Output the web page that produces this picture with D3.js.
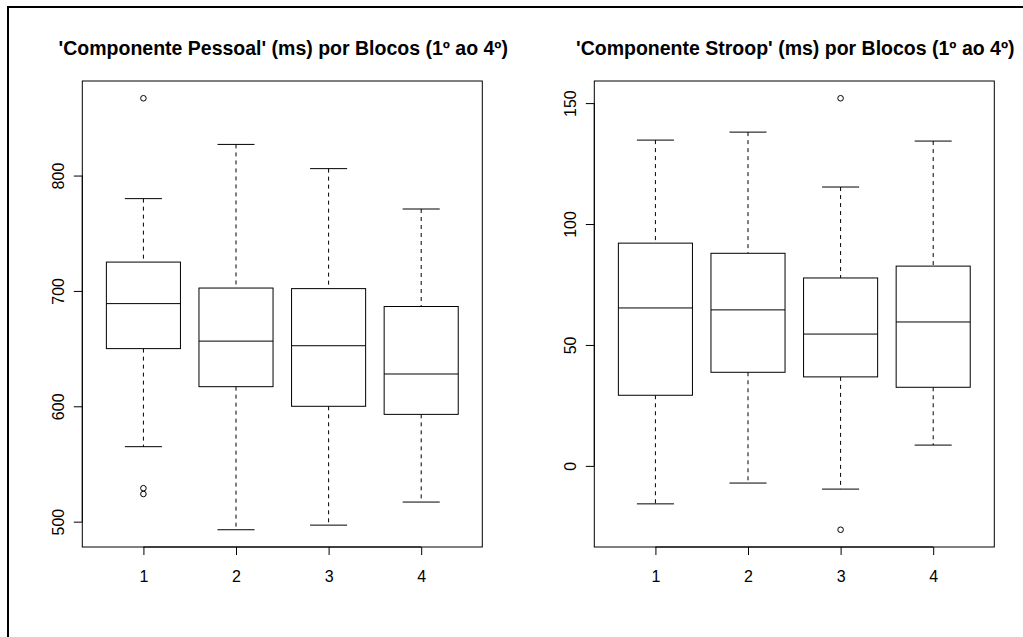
<!DOCTYPE html>
<html>
<head>
<meta charset="utf-8">
<script src="https://cdn.jsdelivr.net/npm/d3@7"></script>
<style>
	html, body { margin: 0; padding: 0; background: #fff; overflow: hidden; }
	svg { display: block; font-family: 'Liberation Sans', Arial, Helvetica, sans-serif; }
</style>
</head>
<body>
<svg id="chart" width="1023" height="637"></svg>
<script>
'use strict'

// blocos 1..4
const blocos = ['1', '2', '3', '4']

// [bigode inf, Q1, mediana, Q3, bigode sup]
const pessoalStats = [
	[565, 650, 689, 725, 780],
	[493, 617, 656.5, 702.5, 827],
	[497, 600, 652.5, 702, 806],
	[517, 593, 628, 686.5, 771]
]
const pessoalOutliers = [[867, 529, 524], [], [], []]
const pessoalTicks = [500, 600, 700, 800]

const stroopStats = [
	[-15.7, 29.2, 65.3, 92.1, 134.7],
	[-7.1, 38.7, 64.5, 87.9, 138],
	[-9.6, 36.8, 54.5, 77.7, 115.3],
	[8.6, 32.5, 59.5, 82.6, 134.3]
]
const stroopOutliers = [[], [], [152, -26.4], []]
const stroopTicks = [0, 50, 100, 150]

const titles = [
	'\'Componente Pessoal\' (ms) por Blocos (1º ao 4º)',
	'\'Componente Stroop\' (ms) por Blocos (1º ao 4º)'
]

const svg = d3.select('#chart')

svg.append('rect')
	.attr('x', 0).attr('y', 0)
	.attr('width', 1023).attr('height', 637)
	.attr('fill', '#fff')

// moldura exterior (cortada à direita e em baixo)
svg.append('rect')
	.attr('x', 8).attr('y', 7)
	.attr('width', 1200).attr('height', 800)
	.attr('fill', 'none')
	.attr('stroke', '#000')
	.attr('stroke-width', 2)

const panel = {
	top: 81,
	bottom: 547,
	width: 400
}

// extensão de 4% como no R
const extend = (lo, hi) => {
	const pad = (hi - lo) * 0.04
	return [lo - pad, hi + pad]
}

function drawPanel(left, title, stats, outliers, ticks) {
	const g = svg.append('g')

	const all = stats.flat().concat(outliers.flat())
	const y = d3.scaleLinear()
		.domain(extend(d3.min(all), d3.max(all)))
		.range([panel.bottom, panel.top])

	const x = d3.scaleLinear()
		.domain(extend(0.5, blocos.length + 0.5))
		.range([left, left + panel.width])

	// título
	g.append('text')
		.attr('x', left + panel.width / 2 + 1)
		.attr('y', 55)
		.attr('text-anchor', 'middle')
		.style('font-size', '19.5px')
		.style('font-weight', 'bold')
		.attr('fill', '#000')
		.text(title)

	// eixo y
	const yAxis = g.append('g')
		.attr('transform', `translate(${left},0)`)
		.call(d3.axisLeft(y).tickValues(ticks).tickSize(8.5).tickSizeOuter(0))
	yAxis.select('.domain').remove()
	yAxis.append('line')
		.attr('y1', y(ticks[0])).attr('y2', y(ticks[ticks.length - 1]))
		.attr('stroke', '#000')
	yAxis.selectAll('.tick line').attr('stroke', '#000')
	yAxis.selectAll('.tick text')
		.attr('x', null).attr('dy', null)
		.attr('transform', 'translate(-18,0) rotate(-90)')
		.attr('text-anchor', 'middle')
		.attr('fill', '#000')
		.style('font-size', '16px')
		.style('font-family', 'inherit')

	// eixo x
	const xAxis = g.append('g')
		.attr('transform', `translate(0,${panel.bottom})`)
		.call(d3.axisBottom(x).tickValues(d3.range(1, blocos.length + 1)).tickFormat((d) => blocos[d - 1]).tickSize(8).tickSizeOuter(0))
	xAxis.select('.domain').remove()
	xAxis.append('line')
		.attr('x1', x(1)).attr('x2', x(blocos.length))
		.attr('stroke', '#000')
	xAxis.selectAll('.tick line').attr('stroke', '#000')
	xAxis.selectAll('.tick text')
		.attr('y', 35).attr('dy', null)
		.attr('fill', '#000')
		.style('font-size', '16px')
		.style('font-family', 'inherit')

	// caixas
	const boxes = g.selectAll('.box')
		.data(stats)
		.enter()
		.append('g')
		.attr('class', 'box')

	boxes.append('line')
		.attr('x1', (d, i) => x(i + 1)).attr('x2', (d, i) => x(i + 1))
		.attr('y1', (d) => y(d[4])).attr('y2', (d) => y(d[3]))
		.attr('stroke', '#000')
		.attr('stroke-dasharray', '4,4')

	boxes.append('line')
		.attr('x1', (d, i) => x(i + 1)).attr('x2', (d, i) => x(i + 1))
		.attr('y1', (d) => y(d[1])).attr('y2', (d) => y(d[0]))
		.attr('stroke', '#000')
		.attr('stroke-dasharray', '4,4')

	boxes.each(function(d, i) {
		const b = d3.select(this)
		;[0, 4].forEach((k) => {
			b.append('line')
				.attr('x1', x(i + 1 - 0.2)).attr('x2', x(i + 1 + 0.2))
				.attr('y1', y(d[k])).attr('y2', y(d[k]))
				.attr('stroke', '#000')
		})
	})

	boxes.append('rect')
		.attr('x', (d, i) => x(i + 1 - 0.4))
		.attr('width', () => x(1.4) - x(0.6))
		.attr('y', (d) => y(d[3]))
		.attr('height', (d) => y(d[1]) - y(d[3]))
		.attr('fill', '#fff')
		.attr('stroke', '#000')

	boxes.append('line')
		.attr('x1', (d, i) => x(i + 1 - 0.4)).attr('x2', (d, i) => x(i + 1 + 0.4))
		.attr('y1', (d) => y(d[2])).attr('y2', (d) => y(d[2]))
		.attr('stroke', '#000')

	// outliers
	outliers.forEach((list, i) => {
		g.selectAll(null)
			.data(list)
			.enter()
			.append('circle')
			.attr('cx', x(i + 1))
			.attr('cy', (d) => y(d))
			.attr('r', 2.8)
			.attr('fill', 'none')
			.attr('stroke', '#000')
	})

	// moldura do gráfico
	g.append('rect')
		.attr('x', left).attr('y', panel.top)
		.attr('width', panel.width)
		.attr('height', panel.bottom - panel.top)
		.attr('fill', 'none')
		.attr('stroke', '#000')
}

drawPanel(82.3, titles[0], pessoalStats, pessoalOutliers, pessoalTicks)
drawPanel(594.3, titles[1], stroopStats, stroopOutliers, stroopTicks)
</script>
</body>
</html>
